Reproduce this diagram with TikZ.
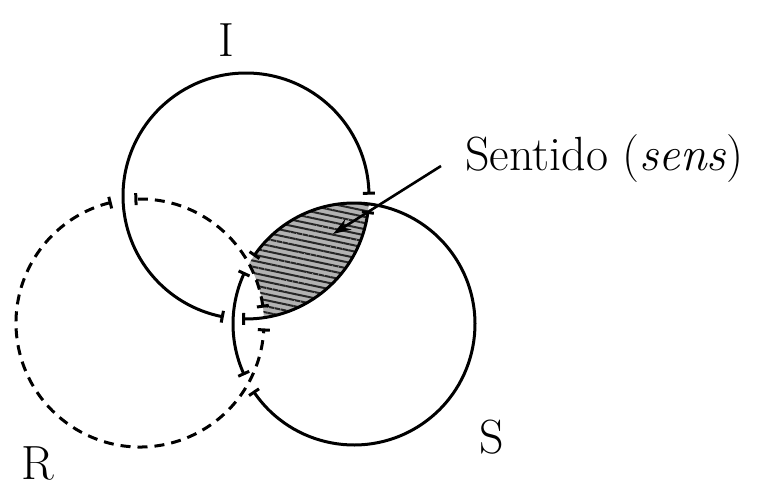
\documentclass[tikz,border=0pt]{standalone}
\usepackage{fontspec}
\usetikzlibrary{arrows.meta,patterns.meta,calc}

\begin{document}
\begin{tikzpicture}[
        x=0.5pt, y=0.5pt,
        ring/.style={line width=1.5pt},
        realring/.style={ring, dash pattern=on 5pt off 3.5pt},
        gapmark/.style={line width=1.5pt},
        ringname/.style={font=\fontsize{24}{28}\selectfont, inner sep=0pt},
        sensfill/.style={fill=black!30, postaction={pattern={Lines[angle=-12,distance=3pt,line width=1pt]}, pattern color=black!85}},
        pointer/.style={line width=1.3pt, -{Stealth[length=9pt,width=6pt]}},
    ]
    \useasboundingbox (0,0) rectangle (773,489);
    \coordinate (I) at (246,293);
    \coordinate (S) at (354,165);
    \coordinate (R) at (140,166);

    % sens: I and S, outside R
    \begin{scope}
        \clip (I) circle[radius=123];
        \clip (S) circle[radius=121];
        \fill[sensfill, even odd rule] (0,0) rectangle (773,489) (R) circle[radius=124];
    \end{scope}

    % I passes under S
    \foreach \a/\b in {1.3/258.9, 268.9/352.3}
        \draw[ring] ($(I)+(\a:123)$) arc[start angle=\a, end angle=\b, radius=123];
    \foreach \t in {1.3, 258.9, 268.9, 352.3}
        \draw[gapmark] ($(I)+(\t:117)$) -- ($(I)+(\t:129)$);

    % S passes under R
    \foreach \a/\b in {155.3/204.3, 214.3/505.3}
        \draw[ring] ($(S)+(\a:121)$) arc[start angle=\a, end angle=\b, radius=121];
    \foreach \t in {155.3, 204.3, 214.3, 145.3}
        \draw[gapmark] ($(S)+(\t:115)$) -- ($(S)+(\t:127)$);

    % R passes under I
    \foreach \a/\b in {7.8/91.9, 103.9/356.8}
        \draw[realring] ($(R)+(\a:124)$) arc[start angle=\a, end angle=\b, radius=124];
    \foreach \t in {7.8, 91.9, 103.9, 356.8}
        \draw[gapmark] ($(R)+(\t:118)$) -- ($(R)+(\t:130)$);

    \node[ringname] (iname) at (226,449) {I};
    \node[ringname] (rname) at (38,26) {R};
    \node[ringname] (sname) at (492,52) {S};
    \node[ringname, anchor=base west] (sens) at (465,319) {Sentido (\textit{sens})};

    \coordinate (tip) at (333,255);
    \draw[pointer] ([xshift=-12pt,yshift=2pt]sens.base west) -- (tip);
\end{tikzpicture}
\end{document}
